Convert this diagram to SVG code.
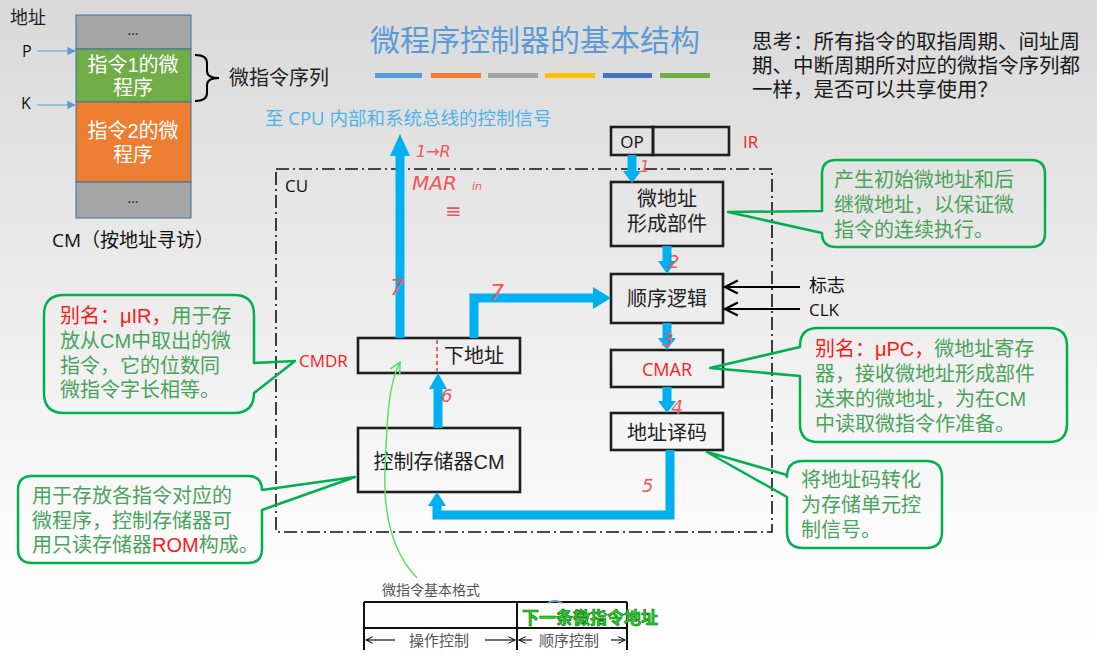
<svg xmlns="http://www.w3.org/2000/svg" width="1097" height="663" viewBox="0 0 1097 663">
<defs>
<linearGradient id="bg" x1="0" y1="0" x2="0" y2="1">
<stop offset="0" stop-color="#d9d9d9"/>
<stop offset="0.85" stop-color="#fdfdfd"/>
<stop offset="1" stop-color="#ffffff"/>
</linearGradient>
<marker id="open" viewBox="0 0 10 10" refX="9" refY="5" markerWidth="8" markerHeight="8" orient="auto">
<path d="M1,1 L9,5 L1,9" fill="none" stroke="#000" stroke-width="1.4"/>
</marker>
<marker id="thin" viewBox="0 0 10 10" refX="9" refY="5" markerWidth="7" markerHeight="7" orient="auto">
<path d="M0,0 L10,5 L0,10 Z" fill="#5b9bd5"/>
</marker>
<marker id="tbl" viewBox="0 0 10 10" refX="9" refY="5" markerWidth="7" markerHeight="7" orient="auto">
<path d="M1,1 L9,5 L1,9" fill="none" stroke="#000" stroke-width="1.2"/>
</marker>
<marker id="grn" viewBox="0 0 10 10" refX="9" refY="5" markerWidth="9" markerHeight="9" orient="auto">
<path d="M1,1 L9,5 L1,9" fill="none" stroke="#5be35b" stroke-width="1.2"/>
</marker>
</defs>
<style>
.cjk{font-family:"Noto Sans CJK SC","Noto Sans",sans-serif}
.ml{font-family:"Liberation Sans","Noto Sans CJK SC",sans-serif}
.lat{font-family:"Open Sans","Noto Sans CJK SC",sans-serif}
.box{fill:none;stroke:#1e1e1e;stroke-width:2.6}
.bl{fill:none;stroke:#00b0f0;stroke-width:9;stroke-linejoin:miter}
.bh{fill:#00b0f0}
.co{fill:none;stroke:#00b050;stroke-width:2.5;stroke-linejoin:round}
.ct{font-family:"Liberation Sans","Noto Sans CJK SC",sans-serif;font-size:20px;fill:#4aa35a}
.red{fill:#ff1a1a}
.hand{font-family:"DejaVu Sans",sans-serif;font-style:italic;fill:#f05656}
.bt{font-family:"Liberation Sans","Noto Sans CJK SC",sans-serif;font-size:20px;fill:#222;text-anchor:middle}
</style>
<rect x="0" y="0" width="1097" height="663" fill="url(#bg)"/>

<!-- CM memory column -->
<g id="cm-column">
<text x="10" y="24" class="cjk" font-size="18" fill="#222">地址</text>
<rect x="76" y="15" width="115" height="34" fill="#a5a5a5" stroke="#41719c" stroke-width="1"/>
<rect x="76" y="49" width="115" height="53" fill="#70ad47" stroke="#41719c" stroke-width="1"/>
<rect x="76" y="102" width="115" height="80" fill="#ed7d31" stroke="#41719c" stroke-width="1"/>
<rect x="76" y="182" width="115" height="36" fill="#a5a5a5" stroke="#41719c" stroke-width="1"/>
<text x="133" y="35" class="lat" font-size="14" fill="#222" text-anchor="middle">...</text>
<text x="133" y="203" class="lat" font-size="14" fill="#222" text-anchor="middle">...</text>
<text class="ml" font-size="20" fill="#fff" text-anchor="middle"><tspan x="133" y="72">指令1的微</tspan><tspan x="133" dy="22.6">程序</tspan></text>
<text class="ml" font-size="20" fill="#fff" text-anchor="middle"><tspan x="133" y="138">指令2的微</tspan><tspan x="133" dy="24">程序</tspan></text>
<text x="22" y="57" class="lat" font-size="16" fill="#111">P</text>
<text x="21" y="109" class="lat" font-size="16" fill="#111">K</text>
<line x1="37" y1="51" x2="75" y2="51" stroke="#5b9bd5" stroke-width="1.2" marker-end="url(#thin)"/>
<line x1="37" y1="105" x2="75" y2="105" stroke="#5b9bd5" stroke-width="1.2" marker-end="url(#thin)"/>
<path d="M195,55 Q207,55 207,63 V71 Q207,78 219,78 Q207,78 207,85 V93 Q207,101 195,101" fill="none" stroke="#000" stroke-width="2"/>
<text x="229" y="85" class="cjk" font-size="20" fill="#222">微指令序列</text>
<text x="52" y="247" class="lat" font-size="19" fill="#111">CM（按地址寻访）</text>
</g>

<!-- title -->
<g id="title">
<text x="370" y="51" class="cjk" font-size="30" fill="#5b9bd5">微程序控制器的基本结构</text>
<rect x="375" y="73" width="47" height="5" fill="#5b9bd5"/>
<rect x="431" y="73" width="50" height="5" fill="#ed7d31"/>
<rect x="488" y="73" width="50" height="5" fill="#a5a5a5"/>
<rect x="545" y="73" width="50" height="5" fill="#ffc000"/>
<rect x="603" y="73" width="49" height="5" fill="#4472c4"/>
<rect x="660" y="73" width="50" height="5" fill="#70ad47"/>
</g>

<text id="question" class="ml" font-size="20.5" fill="#1a1a1a"><tspan x="752" y="49">思考：所有指令的取指周期、间址周</tspan><tspan x="752" dy="24">期、中断周期所对应的微指令序列都</tspan><tspan x="752" dy="24">一样，是否可以共享使用？</tspan></text>

<text id="cpu-signal" x="265" y="125" class="lat" font-size="18.5" fill="#4fb3ea">至 CPU 内部和系统总线的控制信号</text>

<!-- CU frame -->
<g id="cu">
<rect x="276" y="169" width="496" height="363" fill="none" stroke="#111" stroke-width="1.6" stroke-dasharray="13 4 2 4"/>
<text x="285" y="192" class="lat" font-size="17" fill="#111">CU</text>
</g>

<!-- nodes -->
<g id="ir">
<rect x="611" y="127" width="42" height="28" class="box"/>
<rect x="653" y="127" width="76" height="28" class="box"/>
<text x="632" y="148" class="lat" font-size="17" fill="#111" text-anchor="middle">OP</text>
<text x="743" y="148" class="lat red" font-size="17">IR</text>
</g>
<g id="micro-addr-gen">
<rect x="611" y="182" width="112" height="64" class="box"/>
<text class="bt"><tspan x="667" y="206">微地址</tspan><tspan x="667" dy="25">形成部件</tspan></text>
</g>
<g id="seq-logic">
<rect x="611" y="274" width="112" height="49" class="box"/>
<text x="667" y="306" class="bt">顺序逻辑</text>
</g>
<g id="cmar">
<rect x="611" y="350" width="112" height="37" class="box"/>
<text x="667" y="376" class="lat red" font-size="18" text-anchor="middle">CMAR</text>
</g>
<g id="addr-decode">
<rect x="611" y="413" width="112" height="37" class="box"/>
<text x="667" y="440" class="bt">地址译码</text>
</g>
<g id="cmdr">
<rect x="358" y="338" width="162" height="35" class="box"/>
<line x1="437" y1="340" x2="437" y2="371" stroke="#f06060" stroke-width="2" stroke-dasharray="4 3"/>
<text x="474" y="363" class="bt">下地址</text>
<text x="299" y="367" class="lat red" font-size="17">CMDR</text>
</g>
<g id="control-store">
<rect x="358" y="428" width="162" height="64" class="box"/>
<text x="439" y="469" class="bt">控制存储器CM</text>
</g>

<!-- connectors -->
<g id="connectors">
<path class="bl" d="M400,338 V152"/>
<polygon class="bh" points="390,156 410,156 400,134"/>
<path class="bl" d="M474,338 V298 H595"/>
<polygon class="bh" points="593,287 593,309 611,298"/>
<path class="bl" d="M632,155 V172"/>
<polygon class="bh" points="623,171 641,171 632,183"/>
<path class="bl" d="M667,246 V262"/>
<polygon class="bh" points="658,261 676,261 667,274"/>
<path class="bl" d="M667,323 V339"/>
<polygon class="bh" points="658,338 676,338 667,350"/>
<path class="bl" d="M667,387 V402"/>
<polygon class="bh" points="658,401 676,401 667,413"/>
<path class="bl" d="M670,450 V515 H437 V504"/>
<polygon class="bh" points="428,506 446,506 437,492"/>
<path class="bl" d="M438,428 V386"/>
<polygon class="bh" points="429,389 447,389 438,373"/>
<line x1="800" y1="287" x2="725" y2="287" stroke="#000" stroke-width="2" marker-end="url(#open)"/>
<line x1="800" y1="309" x2="725" y2="309" stroke="#000" stroke-width="2" marker-end="url(#open)"/>
<path d="M417,578 C395,555 383,520 385,470 C387,420 388,385 400,362" fill="none" stroke="#5be35b" stroke-width="1.5" marker-end="url(#grn)"/>
</g>
<text x="809" y="292" class="cjk" font-size="18" fill="#111">标志</text>
<text x="809" y="316" class="lat" font-size="17" fill="#111">CLK</text>

<!-- handwritten annotations -->
<g id="notes" class="hand">
<text x="416" y="157" font-size="16">1→R</text>
<text x="412" y="190" font-size="20">MAR</text>
<text x="472" y="190" font-size="11">in</text>
<text x="445" y="218" font-size="20">≡</text>
<text x="390" y="295" font-size="22">7</text>
<text x="490" y="300" font-size="22">7</text>
<text x="640" y="172" font-size="15">1</text>
<text x="668" y="268" font-size="18">2</text>
<text x="662" y="346" font-size="18">3</text>
<text x="671" y="414" font-size="19">4</text>
<text x="642" y="492" font-size="18">5</text>
<text x="441" y="402" font-size="18">6</text>
</g>

<!-- callouts -->
<g id="callout-gen">
<path class="co" d="M836,160 H1031 Q1045,160 1045,174 V233 Q1045,247 1031,247 H836 Q822,247 822,233 L728,212 L822,211 V174 Q822,160 836,160 Z"/>
<text class="ct"><tspan x="834" y="187">产生初始微地址和后</tspan><tspan x="834" dy="25">继微地址，以保证微</tspan><tspan x="834" dy="25">指令的连续执行。</tspan></text>
</g>
<g id="callout-cmar">
<path class="co" d="M818,328 H1049 Q1067,328 1067,346 V424 Q1067,442 1049,442 H818 Q800,442 800,424 V376 L710,368 L800,347 V346 Q800,328 818,328 Z"/>
<text class="ct"><tspan x="815" y="356"><tspan class="red">别名：μPC，</tspan>微地址寄存</tspan><tspan x="815" dy="25">器，接收微地址形成部件</tspan><tspan x="815" dy="25">送来的微地址，为在CM</tspan><tspan x="815" dy="25">中读取微指令作准备。</tspan></text>
</g>
<g id="callout-decode">
<path class="co" d="M803,461 H926 Q942,461 942,477 V532 Q942,548 926,548 H803 Q787,548 787,532 V497 L707,452 L787,475 V477 Q787,461 803,461 Z"/>
<text class="ct"><tspan x="801" y="487">将地址码转化</tspan><tspan x="801" dy="25">为存储单元控</tspan><tspan x="801" dy="25">制信号。</tspan></text>
</g>
<g id="callout-cmdr">
<path class="co" d="M64,295 H234 Q254,295 254,315 V363 L295,361 L254,393 Q254,413 234,413 H64 Q44,413 44,393 V315 Q44,295 64,295 Z"/>
<text class="ct"><tspan x="60" y="323"><tspan class="red">别名：μIR，</tspan>用于存</tspan><tspan x="60" dy="25">放从CM中取出的微</tspan><tspan x="60" dy="25">指令，它的位数同</tspan><tspan x="60" dy="24">微指令字长相等。</tspan></text>
</g>
<g id="callout-cm">
<path class="co" d="M32,476 H248 Q262,476 262,490 L355,477 L262,510 V549 Q262,563 248,563 H32 Q18,563 18,549 V490 Q18,476 32,476 Z"/>
<text class="ct"><tspan x="32" y="503">用于存放各指令对应的</tspan><tspan x="32" dy="25">微程序，控制存储器可</tspan><tspan x="32" dy="24">用只读存储器<tspan class="red">ROM</tspan>构成。</tspan></text>
</g>

<!-- micro-instruction format -->
<g id="format">
<text x="382" y="595" class="cjk" font-size="14" fill="#555">微指令基本格式</text>
<path d="M364,602 H627 M364,628 H627 M364,602 V650 M517,602 V650 M627,602 V650" fill="none" stroke="#111" stroke-width="2"/>
<path d="M548,603 Q555,599 562,603" fill="none" stroke="#5b9bd5" stroke-width="2"/>
<text x="522" y="624" class="cjk" font-size="17" font-weight="bold" fill="#1fd81f" stroke="#0a6a0a" stroke-width="0.6">下一条微指令地址</text>
<line x1="395" y1="640" x2="366" y2="640" stroke="#111" stroke-width="1.2" marker-end="url(#tbl)"/>
<line x1="485" y1="640" x2="515" y2="640" stroke="#111" stroke-width="1.2" marker-end="url(#tbl)"/>
<line x1="532" y1="640" x2="519" y2="640" stroke="#111" stroke-width="1.2" marker-end="url(#tbl)"/>
<line x1="611" y1="640" x2="625" y2="640" stroke="#111" stroke-width="1.2" marker-end="url(#tbl)"/>
<text x="409" y="646" class="cjk" font-size="15" fill="#555">操作控制</text>
<text x="539" y="646" class="cjk" font-size="15" fill="#555">顺序控制</text>
</g>
</svg>
